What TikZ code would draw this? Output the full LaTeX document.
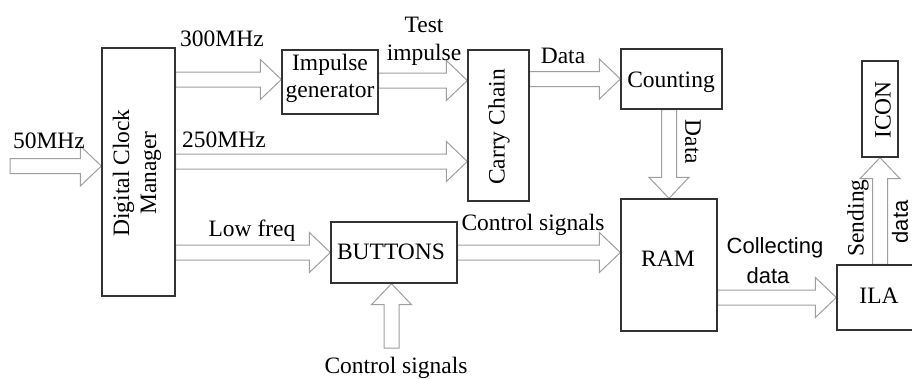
\documentclass[tikz,border=0pt]{standalone}
\usepackage{fontspec}
\setmainfont{Liberation Serif}
\newfontfamily\arialfont{Liberation Sans}
\usetikzlibrary{calc}
\pgfdeclarelayer{bg}
\pgfsetlayers{bg,main}
\tikzset{
  box/.style={draw=black!80, line width=1.3pt, fill=white, inner sep=0pt},
  blockarrow/.style={draw=gray!75, line width=1pt, line join=miter},
  lbl/.style={inner sep=0pt, font=\fontsize{23.5}{27}\selectfont},
  sanslbl/.style={inner sep=0pt, font=\arialfont\fontsize{22}{26}\selectfont},
}
\newcommand\blockarr[2]{%
  \coordinate (ba-h) at ($(#2)!21pt!(#1)$);
  \draw[blockarrow] ($(#1)!7.5pt!90:(#2)$) -- ($(ba-h)!7.5pt!90:(#2)$) -- ($(ba-h)!20pt!90:(#2)$) -- (#2) -- ($(ba-h)!20pt!-90:(#2)$) -- ($(ba-h)!7.5pt!-90:(#2)$) -- ($(#1)!7.5pt!-90:(#2)$) -- cycle;}
\begin{document}
\begin{tikzpicture}[x=1pt,y=-1pt]
\useasboundingbox (0,0) rectangle (912,378);
\begin{pgfonlayer}{bg}
\fill[white] (0,0) rectangle (912,378);
\end{pgfonlayer}
% boxes
\node[box, minimum width=73pt, minimum height=248pt] (dcm) at (138.5,172) {};
\node[box, minimum width=96pt, minimum height=64pt] (imp) at (330,82) {};
\node[box, minimum width=61pt, minimum height=151pt] (cc) at (498.5,125.5) {};
\node[box, minimum width=101pt, minimum height=60pt] (cnt) at (671.5,79) {};
\node[box, minimum width=96pt, minimum height=132pt] (ram) at (669,265) {};
\node[box, minimum width=126pt, minimum height=61pt] (btn) at (394,252.5) {};
\node[box, minimum width=84pt, minimum height=65pt] (ila) at (879,297.5) {};
\node[box, minimum width=36pt, minimum height=96pt] (icon) at (880,109) {};
% helper coordinates
\coordinate (s50) at (10,166);
\coordinate (y300) at (0,79.5);
\coordinate (yti) at (0,80.5);
\coordinate (y250) at (0,161.5);
\coordinate (cbot) at (391.5,348);
% arrows
\begin{pgfonlayer}{bg}
\blockarr{s50}{dcm.west |- s50}
\blockarr{dcm.east |- y300}{imp.west |- y300}
\blockarr{imp.east |- yti}{cc.west |- yti}
\blockarr{dcm.east |- y250}{cc.west |- y250}
\blockarr{cc.east |- cnt.west}{cnt.west}
\blockarr{dcm.east |- btn.west}{btn.west}
\blockarr{btn.east}{ram.west |- btn.east}
\blockarr{ram.east |- ila.west}{ila.west}
\blockarr{ram.north |- cnt.south}{ram.north}
\blockarr{icon.south |- ila.north}{icon.south}
\blockarr{cbot}{cbot |- btn.south}
\end{pgfonlayer}
% texts
\node[lbl, rotate=90, align=center] (tdcm) at (137,173) {Digital Clock\\Manager};
\node[lbl, anchor=base] (timp1) at (330,70) {Impulse};
\node[lbl, anchor=base] (timp2) at (330,97) {generator};
\node[lbl, rotate=90] (tcc) at (499,127) {Carry Chain};
\node[lbl, anchor=base] (tcnt) at (671,87) {Counting};
\node[lbl, anchor=base] (tram) at (668,266) {RAM};
\node[lbl, anchor=base] (tbtn) at (391,259) {BUTTONS};
\node[lbl, anchor=base] (tila) at (879,303) {ILA};
\node[lbl, rotate=90] (ticon) at (883,110) {ICON};
\node[lbl, anchor=base] (l50) at (49,148) {50MHz};
\node[lbl, anchor=base] (l300) at (222,46) {300MHz};
\node[lbl, anchor=base] (l250) at (224,147) {250MHz};
\node[lbl, anchor=base] (ltest1) at (424,32) {Test};
\node[lbl, anchor=base] (ltest2) at (424,60) {impulse};
\node[lbl, anchor=base] (ldata) at (563,63) {Data};
\node[lbl, rotate=-90] (ldatav) at (693,142) {Data};
\node[lbl, anchor=base] (llow) at (252,236) {Low freq};
\node[lbl, anchor=base] (lctrl) at (533,230) {Control signals};
\node[lbl, anchor=base] (lctrlb) at (396,373) {Control signals};
\node[sanslbl, anchor=base] (lcol1) at (775,253) {Collecting};
\node[sanslbl, anchor=base] (lcol2) at (768,283) {data};
\node[lbl, rotate=90] (lsend) at (858,218) {Sending};
\node[sanslbl, rotate=90] (lsend2) at (900,222) {data};
\end{tikzpicture}
\end{document}
